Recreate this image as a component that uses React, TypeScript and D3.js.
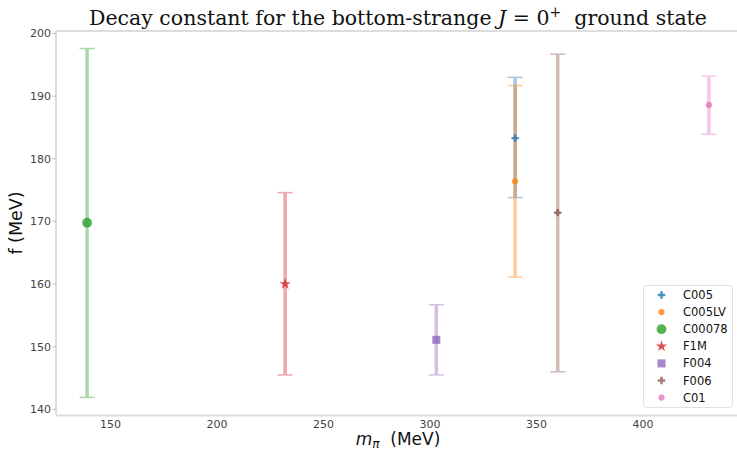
import React from 'react';
import * as d3 from 'd3';

// ensembles, pion mass (MeV), decay constant f (MeV) with lower / upper error
const ensembles = ['C005', 'C005LV', 'C00078', 'F1M', 'F004', 'F006', 'C01'];
const mPi = [340, 340, 139, 232, 303, 360, 431];
const fVal = [183.3, 176.4, 169.8, 160.0, 151.1, 171.4, 188.6];
const fLow = [173.8, 161.1, 141.9, 145.5, 145.5, 146.0, 183.9];
const fHigh = [193.0, 191.7, 197.6, 174.6, 156.7, 196.7, 193.2];

const xTicks = [150, 200, 250, 300, 350, 400];
const yTicks = [140, 150, 160, 170, 180, 190, 200];

const colors = ['#1f77b4', '#ff7f0e', '#2ca02c', '#d62728', '#9467bd', '#8c564b', '#e377c2'];
const shapes = [d3.symbolCross, d3.symbolCircle, d3.symbolCircle, d3.symbolStar, d3.symbolSquare, d3.symbolCross, d3.symbolCircle];
const sizes = [30, 30, 75, 40, 65, 30, 30];

const W = 737;
const H = 450;
const m = {left: 56, right: -3, top: 31, bottom: 35};

export default function App() {
    const xScale = d3.scaleLinear().domain([124.4, 445.6]).range([m.left, W - m.right]);
    const yScale = d3.scaleLinear().domain([139.1, 200.4]).range([H - m.bottom, m.top]);

    const rows = ensembles.map((name, i) => ({
        name, x: mPi[i], y: fVal[i], lo: fLow[i], hi: fHigh[i],
        color: colors[i], shape: shapes[i], size: sizes[i]
    }));

    const sym = (d) => d3.symbol().type(d.shape).size(d.size)();
    const x0 = xScale.range()[0];
    const x1 = xScale.range()[1];
    const y0 = yScale.range()[0];
    const y1 = yScale.range()[1];
    const cx = (x0 + x1) / 2;

    return (
        <svg width={W} height={H} style={{position: 'fixed', left: 0, top: 0, background: '#fff'}}
             fontFamily="'DejaVu Sans', sans-serif">
            {/* spines */}
            <line x1={x0} x2={x1} y1={y1} y2={y1} stroke="#bbb" strokeWidth={1} />
            <line x1={x0} x2={x0} y1={y1} y2={y0} stroke="#bbb" strokeWidth={1} />
            <line x1={x0} x2={x1} y1={y0 + 0.5} y2={y0 + 0.5} stroke="#ddd" strokeWidth={2} />

            {/* y ticks */}
            {yTicks.map(t => (
                <g key={'y' + t} transform={`translate(0,${yScale(t)})`}>
                    <line x1={x0 - 3.5} x2={x0} stroke="#bbb" />
                    <text x={x0 - 5} dy="0.35em" textAnchor="end" fontSize={11} fill="#444">{t}</text>
                </g>
            ))}
            {/* x ticks */}
            {xTicks.map(t => (
                <g key={'x' + t} transform={`translate(${xScale(t)},${y0})`}>
                    <text y={12.5} textAnchor="middle" fontSize={11} fill="#444">{t}</text>
                </g>
            ))}

            {/* error bars */}
            {rows.map(d => (
                <g key={'e' + d.name} stroke={d.color} opacity={0.4}>
                    <line x1={xScale(d.x)} x2={xScale(d.x)} y1={yScale(d.lo)} y2={yScale(d.hi)} strokeWidth={3.5} />
                    <line x1={xScale(d.x) - 7.5} x2={xScale(d.x) + 7.5} y1={yScale(d.lo)} y2={yScale(d.lo)} strokeWidth={1.5} />
                    <line x1={xScale(d.x) - 7.5} x2={xScale(d.x) + 7.5} y1={yScale(d.hi)} y2={yScale(d.hi)} strokeWidth={1.5} />
                </g>
            ))}
            {/* markers */}
            {rows.map(d => (
                <path key={'m' + d.name} d={sym(d)} transform={`translate(${xScale(d.x)},${yScale(d.y)})`}
                      fill={d.color} opacity={0.8} />
            ))}

            {/* legend */}
            <rect x={643.5} y={285.5} width={89} height={122} rx={3} fill="#fff" stroke="#e0e0e0" />
            {rows.map((d, i) => (
                <g key={'l' + d.name} transform={`translate(0,${295 + i * 17.1})`}>
                    <path d={sym(d)} transform="translate(661.5,0)" fill={d.color} opacity={0.8} />
                    <text x={683} dy="0.35em" fontSize={11.5} fill="#111">{d.name}</text>
                </g>
            ))}

            {/* labels */}
            <text x={cx} y={25} textAnchor="middle" fontSize={20.5} fill="#111"
                  fontFamily="'DejaVu Serif', serif">
                Decay constant for the bottom-strange <tspan fontStyle="italic">J</tspan> = 0
                <tspan dy={-8} fontSize={14}>+</tspan><tspan dy={8}>{'\u00a0\u00a0'}ground state</tspan>
            </text>
            <text transform={`translate(22,${(y0 + y1) / 2}) rotate(-90)`} textAnchor="middle" fontSize={17.5} fill="#111">
                f (MeV)
            </text>
            <text x={cx} y={445} textAnchor="middle" fontSize={17} fill="#111">
                <tspan fontStyle="italic">m</tspan><tspan fontStyle="italic" fontSize={12} dy={2.5}>π</tspan>
                <tspan dy={-2.5}>{'\u00a0\u00a0'}(MeV)</tspan>
            </text>
        </svg>
    );
}
